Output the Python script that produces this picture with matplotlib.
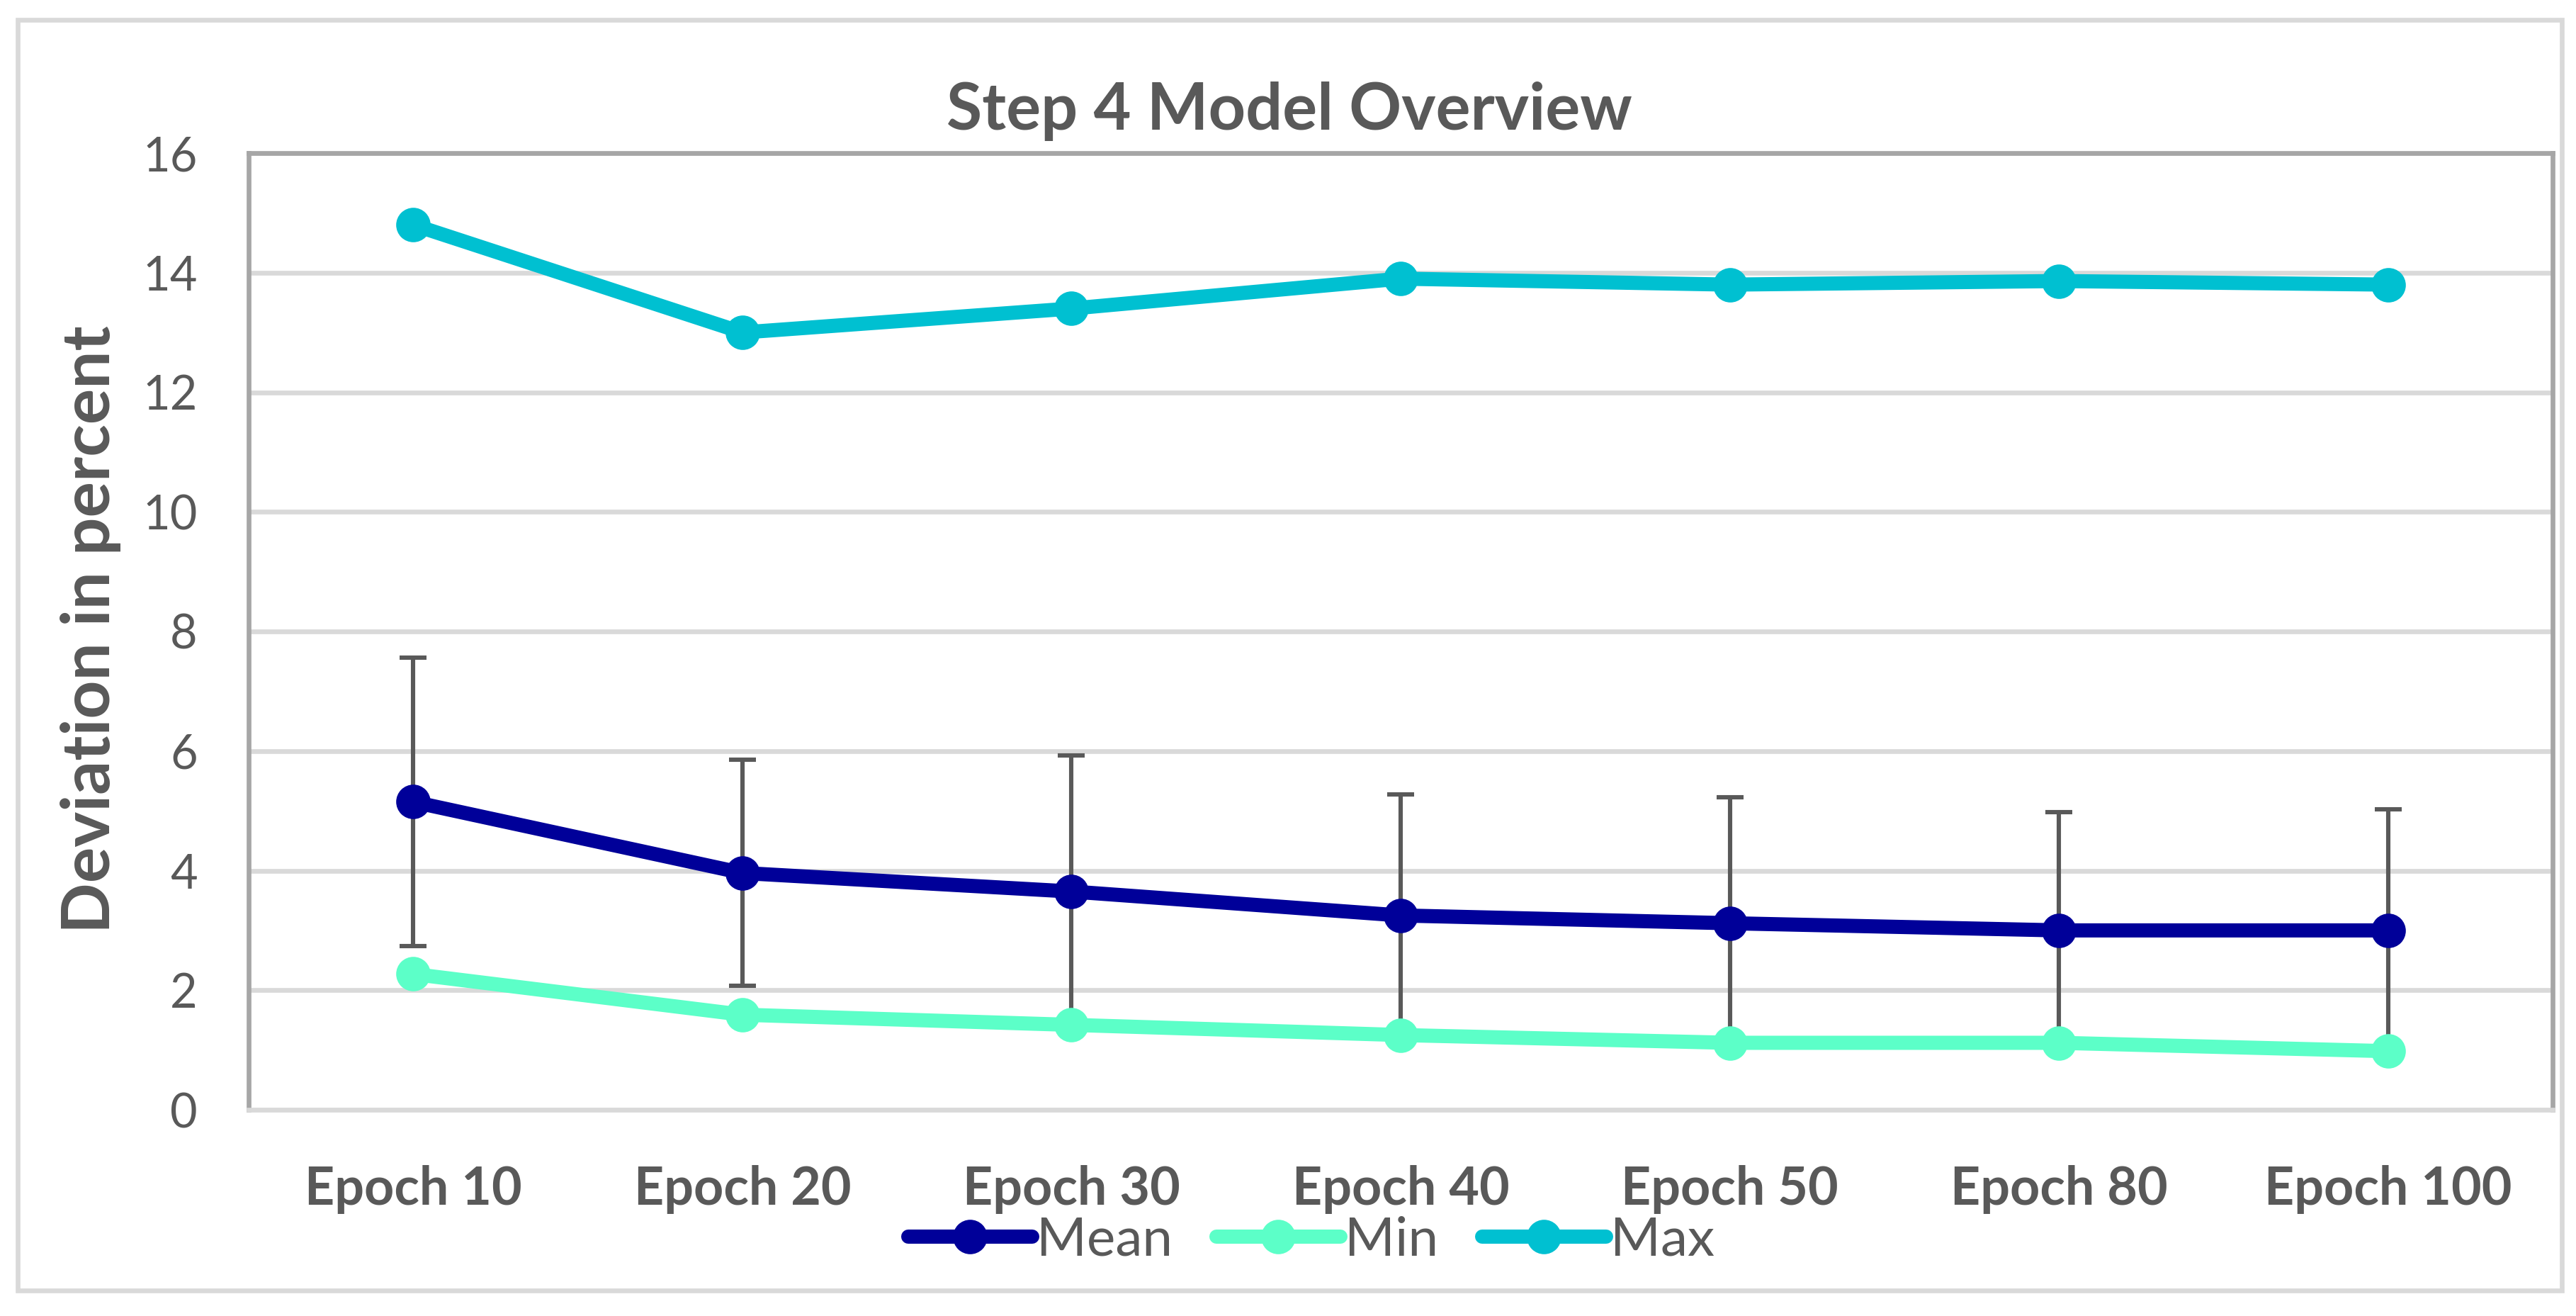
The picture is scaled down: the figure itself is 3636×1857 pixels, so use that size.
import matplotlib
matplotlib.use("Agg")
import matplotlib.pyplot as plt
from matplotlib.patches import Rectangle

categories = ["Epoch 10", "Epoch 20", "Epoch 30", "Epoch 40", "Epoch 50", "Epoch 80", "Epoch 100"]
mean_vals = [5.15, 3.96, 3.65, 3.25, 3.12, 3.00, 3.00]
mean_err = [2.41, 1.89, 2.28, 2.03, 2.11, 1.98, 2.03]
min_vals = [2.27, 1.59, 1.42, 1.25, 1.12, 1.12, 0.98]
max_vals = [14.80, 13.00, 13.40, 13.90, 13.80, 13.86, 13.80]
y_ticks = [0, 2, 4, 6, 8, 10, 12, 14, 16]

TXT = "#595959"
FONT = "Lato"
W, H, DPI = 3637, 1857, 200

plt.rcParams["font.family"] = [FONT, "DejaVu Sans"]

fig = plt.figure(figsize=(W / DPI, H / DPI), dpi=DPI)
ax = fig.add_axes([351 / W, 1 - 1566 / H, (3603 - 351) / W, (1566 - 216) / H])

x = list(range(len(categories)))

ax.errorbar(x, mean_vals, yerr=mean_err, fmt="none", ecolor=TXT,
            elinewidth=2.2, capsize=6.8, capthick=2.2, zorder=2)
ax.plot(x, mean_vals, color="#000099", lw=7.2, marker="o", ms=16.5,
        label="Mean", zorder=3, solid_capstyle="round")
ax.plot(x, min_vals, color="#5CFFC8", lw=7.2, marker="o", ms=16.5,
        label="Min", zorder=4, solid_capstyle="round")
ax.plot(x, max_vals, color="#00C0D1", lw=7.2, marker="o", ms=16.5,
        label="Max", zorder=5, solid_capstyle="round")

ax.set_xlim(-0.5, len(categories) - 0.5)
ax.set_ylim(0, 16)
ax.set_yticks(y_ticks)
ax.set_yticklabels([str(v) for v in y_ticks])
ax.set_xticks(x)
ax.set_xticklabels(categories, fontweight="bold")
ax.tick_params(axis="both", length=0, colors=TXT)
ax.tick_params(axis="y", labelsize=24, pad=26)
ax.tick_params(axis="x", labelsize=26.5, pad=28)

ax.grid(axis="y", color="#D9D9D9", lw=2.4, zorder=0)
ax.set_axisbelow(True)
for s in ["left", "top", "right"]:
    ax.spines[s].set_color("#A6A6A6")
    ax.spines[s].set_linewidth(2.4)
ax.spines["bottom"].set_color("#D9D9D9")
ax.spines["bottom"].set_linewidth(2.4)

fig.text(1820 / W, 1 - 183 / H, "Step 4 Model Overview", ha="center", va="baseline",
         fontsize=33, fontweight="bold", color=TXT)
fig.text(128 / W, 1 - 888 / H, "Deviation in percent", ha="center", va="center",
         rotation=90, fontsize=34, fontweight="bold", color=TXT)

fig.legend(loc="center", bbox_to_anchor=(1851 / W, 1 - 1750 / H), ncol=3, frameon=False,
           fontsize=27.5, handlelength=2.3, handletextpad=0.08, columnspacing=0.8,
           labelcolor=TXT)

fig.patches.append(Rectangle((25 / W, 1 - 1821 / H), (3616 - 25) / W, (1821 - 28) / H,
                             transform=fig.transFigure, fill=False,
                             edgecolor="#D9D9D9", lw=2.4))

fig.savefig("out.png", dpi=DPI, facecolor="white")
